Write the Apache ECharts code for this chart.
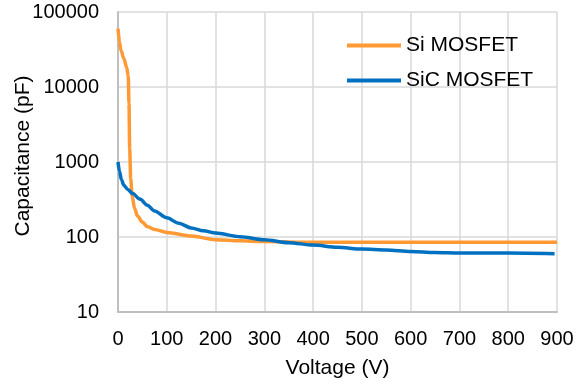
<!DOCTYPE html>
<html>
<head>
<meta charset="utf-8">
<script src="https://cdn.jsdelivr.net/npm/echarts@6/dist/echarts.min.js"></script>
<style>html,body{margin:0;padding:0;background:#fff;}#c{width:577px;height:385px;}</style>
</head>
<body>
<div id="c"></div>
<script>
var seriesNames = ['Si MOSFET', 'SiC MOSFET'];
var siVoltage = [0, 3, 6, 12, 18, 21, 22.5, 24, 26, 29, 34, 40, 50, 60, 75, 100, 150, 200, 250, 300, 400, 500, 600, 700, 800, 900];
var siCap = [60000, 40000, 31000, 24000, 18000, 14000, 6000, 1500, 600, 350, 240, 190, 158, 138, 126, 115, 103, 92, 89, 87, 85, 85, 85, 85, 85, 85];
var sicVoltage = [0, 3, 7, 12, 20, 30, 45, 60, 75, 100, 125, 150, 175, 200, 250, 300, 350, 400, 450, 500, 550, 600, 650, 700, 800, 895];
var sicCap = [1000, 750, 580, 490, 430, 380, 320, 265, 222, 180, 152, 132, 121, 113, 101, 92, 84, 78, 73, 69, 67, 64, 62, 61, 61, 60];
var xTicks = [0, 100, 200, 300, 400, 500, 600, 700, 800, 900];
var yTicks = [10, 100, 1000, 10000, 100000];

function pairs(xs, ys) { return xs.map(function (x, i) { return [x, ys[i]]; }); }

var chart = echarts.init(document.getElementById('c'), null, {renderer: 'canvas'});
var font = 'Liberation Sans, Arial, sans-serif';
chart.setOption({
  animation: false,
  backgroundColor: '#ffffff',
  grid: {left: 118, right: 20, top: 12, bottom: 73, containLabel: false, outerBoundsMode: 'none'},
  legend: {
    orient: 'vertical', left: 342, top: 30, itemGap: 14,
    itemWidth: 54, itemHeight: 4, icon: 'rect',
    textStyle: {fontFamily: font, fontSize: 21, color: '#000'},
    data: seriesNames
  },
  xAxis: {
    type: 'value', min: xTicks[0], max: xTicks[xTicks.length - 1], interval: 100,
    name: 'Voltage (V)', nameLocation: 'middle', nameGap: 46, nameMoveOverlap: false,
    nameTextStyle: {fontFamily: font, fontSize: 21, color: '#000'},
    axisLine: {show: true, lineStyle: {color: '#BFBFBF', width: 2}},
    axisTick: {show: false},
    axisLabel: {fontFamily: font, fontSize: 20, color: '#000', margin: 17},
    splitLine: {show: true, lineStyle: {color: '#D9D9D9', width: 1.5}}
  },
  yAxis: {
    type: 'log', logBase: 10, min: yTicks[0], max: yTicks[yTicks.length - 1],
    name: 'Capacitance (pF)', nameLocation: 'middle', nameGap: 84, nameRotate: 90, nameMoveOverlap: false,
    nameTextStyle: {fontFamily: font, fontSize: 21, color: '#000', padding: [0, 0, 0, 12]},
    axisLine: {show: true, lineStyle: {color: '#BFBFBF', width: 2}},
    axisTick: {show: false},
    axisLabel: {fontFamily: font, fontSize: 20, color: '#000', margin: 19,
      formatter: function (v) { return String(Math.round(v)); }},
    splitLine: {show: true, lineStyle: {color: '#D9D9D9', width: 1.5}}
  },
  series: [
    {name: seriesNames[0], type: 'line', data: pairs(siVoltage, siCap), showSymbol: false,
      smooth: 0.3, smoothMonotone: 'x', color: '#FF9933', lineStyle: {width: 3.5, color: '#FF9933'}},
    {name: seriesNames[1], type: 'line', data: pairs(sicVoltage, sicCap), showSymbol: false,
      smooth: 0.3, smoothMonotone: 'x', color: '#0070C0', lineStyle: {width: 3.5, color: '#0070C0'}}
  ]
});
</script>
</body>
</html>
